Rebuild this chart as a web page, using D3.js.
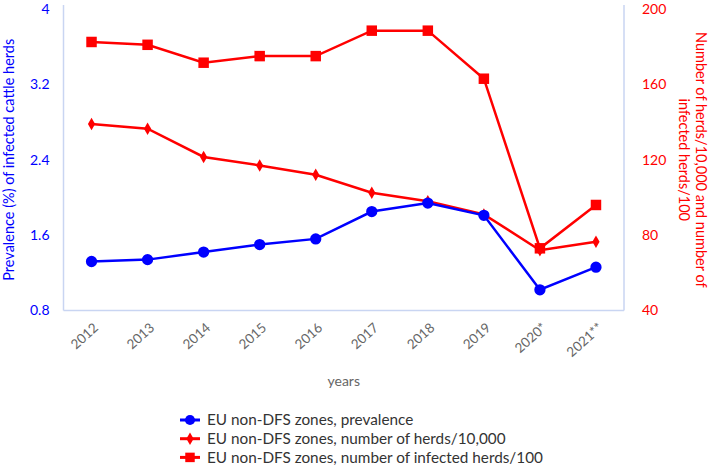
<!DOCTYPE html>
<html>
<head>
<meta charset="utf-8">
<script src="https://cdn.jsdelivr.net/npm/d3@7"></script>
<style>
  body { margin: 0; background: #fff; }
  svg { display: block; font-family: Lato, "Open Sans", sans-serif; }
</style>
</head>
<body>
<svg id="chart" width="709" height="466"></svg>
<script>
const years = ["2012","2013","2014","2015","2016","2017","2018","2019","2020*","2021**"];
const prevalence = [1.32, 1.34, 1.42, 1.50, 1.56, 1.85, 1.94, 1.81, 1.02, 1.26];
const herdsPer10000 = [139, 136.5, 121.5, 117, 112, 102.5, 98, 91, 72, 76.5];
const infectedPer100 = [182.5, 181, 171.5, 175, 175, 188.5, 188.5, 163, 73, 96];
const leftTicks = [0.8, 1.6, 2.4, 3.2, 4];
const rightTicks = [40, 80, 120, 160, 200];
const seriesNames = [
  "EU non-DFS zones, prevalence",
  "EU non-DFS zones, number of herds/10,000",
  "EU non-DFS zones, number of infected herds/100"
];

const BLUE = "#0000ff", RED = "#ff0000", FRAME = "#c9d5f2";
const svg = d3.select("#chart");
const L = 63.5, R = 624, T = 9, B = 310.5;

const x = d3.scalePoint().domain(years).range([L, R]).padding(0.5);
const yL = d3.scaleLinear().domain([0.8, 4]).range([B, T]);
const yR = d3.scaleLinear().domain([40, 200]).range([B, T]);

// frame lines
svg.append("line").attr("x1", L).attr("x2", L).attr("y1", T - 4).attr("y2", B).attr("stroke", FRAME).attr("stroke-width", 1.5);
svg.append("line").attr("x1", R).attr("x2", R).attr("y1", T - 4).attr("y2", B).attr("stroke", FRAME).attr("stroke-width", 1.5);
svg.append("line").attr("x1", L).attr("x2", R).attr("y1", B).attr("y2", B).attr("stroke", FRAME).attr("stroke-width", 1.5);

// left axis
const axL = svg.append("g").attr("transform", `translate(${L},0)`)
  .call(d3.axisLeft(yL).tickValues(leftTicks).tickSize(0).tickPadding(14).tickFormat(d3.format("")));
axL.select(".domain").remove();
axL.selectAll("text").attr("fill", BLUE).style("font-size", "14px").style("font-family", "Lato");

// right axis
const axR = svg.append("g").attr("transform", `translate(${R},0)`)
  .call(d3.axisRight(yR).tickValues(rightTicks).tickSize(0).tickPadding(18));
axR.select(".domain").remove();
axR.selectAll("text").attr("fill", RED).style("font-size", "14px").style("font-family", "Lato");

// x axis
const axX = svg.append("g").attr("transform", `translate(0,${B})`)
  .call(d3.axisBottom(x).tickSize(0).tickPadding(0));
axX.select(".domain").remove();
axX.selectAll("text")
  .attr("fill", "#666")
  .style("font-size", "13.5px").style("font-family", "Lato")
  .attr("text-anchor", "end")
  .attr("dy", "0.35em")
  .attr("transform", "translate(4,15) rotate(-42)");

// axis titles
svg.append("text").attr("transform", `translate(14,${(T + B) / 2}) rotate(-90)`)
  .attr("text-anchor", "middle").attr("fill", BLUE)
  .style("font-size", "14.5px").text("Prevalence (%) of infected cattle herds");
const rt = svg.append("text").attr("transform", `translate(${R + 72},${(T + B) / 2}) rotate(90)`)
  .attr("text-anchor", "middle").attr("fill", RED).style("font-size", "14.5px");
rt.append("tspan").attr("x", 0).attr("dy", 0).text("Number of herds/10,000 and number of");
rt.append("tspan").attr("x", 0).attr("dy", "1.15em").text("infected herds/100");

svg.append("text").attr("x", (L + R) / 2).attr("y", 386).attr("text-anchor", "middle")
  .attr("fill", "#666").style("font-size", "14px").text("years");

// series
const lineL = d3.line().x((d, i) => x(years[i])).y(d => yL(d));
const lineR = d3.line().x((d, i) => x(years[i])).y(d => yR(d));

svg.append("path").datum(infectedPer100).attr("d", lineR).attr("fill", "none").attr("stroke", RED).attr("stroke-width", 2.5);
svg.append("path").datum(herdsPer10000).attr("d", lineR).attr("fill", "none").attr("stroke", RED).attr("stroke-width", 2.5);
svg.append("path").datum(prevalence).attr("d", lineL).attr("fill", "none").attr("stroke", BLUE).attr("stroke-width", 2.5);

const sq = d3.symbol().type(d3.symbolSquare).size(110);
const dm = d3.symbol().type(d3.symbolDiamond).size(45);
const ci = d3.symbol().type(d3.symbolCircle).size(100);

svg.append("g").selectAll("path").data(infectedPer100).join("path")
  .attr("d", sq).attr("fill", RED)
  .attr("transform", (d, i) => `translate(${x(years[i])},${yR(d)})`);
svg.append("g").selectAll("path").data(herdsPer10000).join("path")
  .attr("d", dm).attr("fill", RED)
  .attr("transform", (d, i) => `translate(${x(years[i])},${yR(d)})`);
svg.append("g").selectAll("path").data(prevalence).join("path")
  .attr("d", ci).attr("fill", BLUE)
  .attr("transform", (d, i) => `translate(${x(years[i])},${yL(d)})`);

// legend
const legendSyms = [d3.symbol().type(d3.symbolCircle).size(80), d3.symbol().type(d3.symbolDiamond).size(45), d3.symbol().type(d3.symbolSquare).size(90)];
const legendCols = [BLUE, RED, RED];
const lg = svg.append("g").attr("transform", "translate(180,420)");
seriesNames.forEach((name, i) => {
  const g = lg.append("g").attr("transform", `translate(0,${i * 18.7})`);
  g.append("line").attr("x1", 0).attr("x2", 20).attr("stroke", legendCols[i]).attr("stroke-width", 3);
  g.append("path").attr("d", legendSyms[i]).attr("fill", legendCols[i]).attr("transform", "translate(10,0)");
  g.append("text").attr("x", 27).attr("dy", "0.35em").attr("fill", "#333")
    .style("font-size", "15.3px").text(name);
});
</script>
</body>
</html>
